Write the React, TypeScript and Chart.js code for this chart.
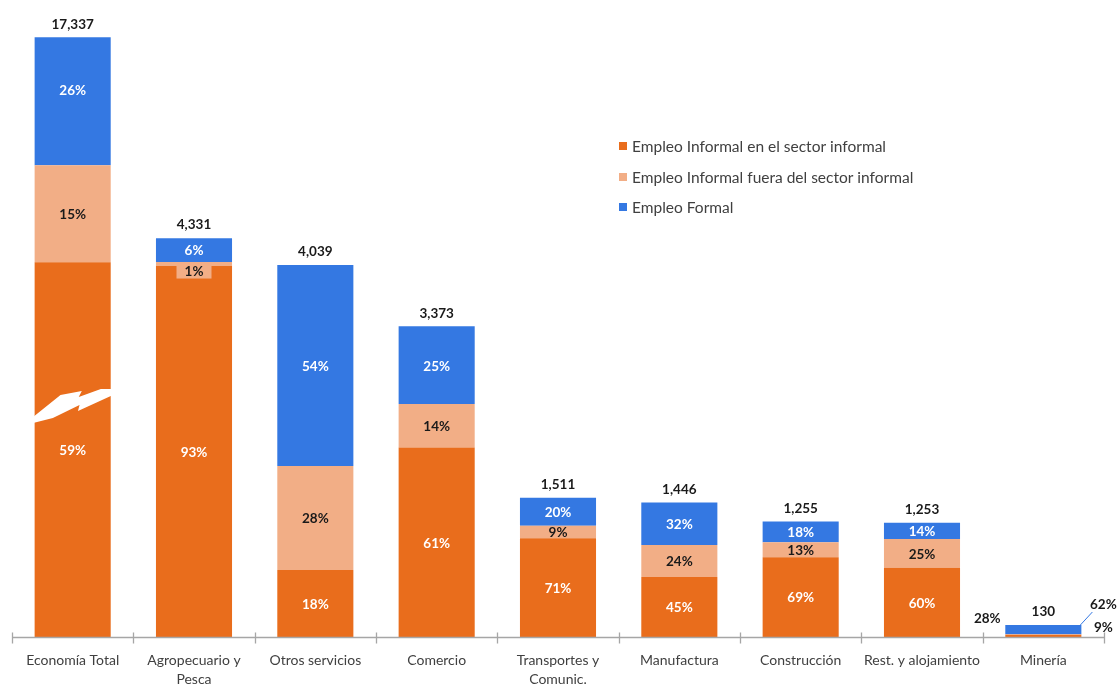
import React, { useEffect, useRef } from "react";
import { Chart, registerables } from "chart.js";

Chart.register(...registerables);

const categories: string[][] = [
  ["Economía Total"],
  ["Agropecuario y", "Pesca"],
  ["Otros servicios"],
  ["Comercio"],
  ["Transportes y", "Comunic."],
  ["Manufactura"],
  ["Construcción"],
  ["Rest. y alojamiento"],
  ["Minería"],
];
const totalLabels = ["17,337", "4,331", "4,039", "3,373", "1,511", "1,446", "1,255", "1,253", "130"];
const pctInformalSector = [59, 93, 18, 61, 71, 45, 69, 60, 9];
const pctInformalOutside = [15, 1, 28, 14, 9, 24, 13, 25, 28];
const pctFormal = [26, 6, 54, 25, 20, 32, 18, 14, 62];
// drawn segment heights (thousands of workers); "Economía Total" is drawn on a broken axis
const informalSector = [4070, 4028, 727, 2058, 1073, 651, 866, 752, 24];
const informalOutside = [1053, 43, 1131, 472, 136, 347, 163, 313, 6];
const formal = [1390, 260, 2181, 843, 302, 463, 226, 175, 100];
const seriesNames = [
  "Empleo Informal en el sector informal",
  "Empleo Informal fuera del sector informal",
  "Empleo Formal",
];
const yMax = 6515;

const ORANGE = "#E96D1C";
const LIGHT = "#F2AE86";
const BLUE = "#3478E2";
const FONT = "Lato, 'Open Sans', sans-serif";

const labelsPlugin = {
  id: "customLabels",
  afterDatasetsDraw(chart: any) {
    const ctx = chart.ctx as CanvasRenderingContext2D;
    const area = chart.chartArea;
    const xs = chart.scales.x;
    const m0 = chart.getDatasetMeta(0);
    const m1 = chart.getDatasetMeta(1);
    const m2 = chart.getDatasetMeta(2);
    ctx.save();

    // broken-axis lightning on first bar
    const b0 = m0.data[0];
    const left = b0.x - b0.width / 2;
    const w = b0.width;
    const yA = chart.scales.y.getPixelForValue(2520);
    const pts: [number, number][] = [
      [-0.02, 12], [0.34, -10], [0.62, -14], [0.58, -8], [0.87, -16], [1.03, -16],
      [1.03, -10], [0.57, 6], [0.59, 0], [0.24, 13], [-0.02, 18],
    ];
    ctx.fillStyle = "#ffffff";
    ctx.beginPath();
    pts.forEach(([fx, dy], i) => {
      const px = left + fx * w;
      const py = yA + dy;
      if (i === 0) ctx.moveTo(px, py);
      else ctx.lineTo(px, py);
    });
    ctx.closePath();
    ctx.fill();

    // axis line & ticks
    const yAxis = area.bottom + 0.5;
    ctx.strokeStyle = "#A6A6A6";
    ctx.lineWidth = 1.3;
    ctx.beginPath();
    ctx.moveTo(area.left, yAxis);
    ctx.lineTo(area.right, yAxis);
    const n = categories.length;
    for (let i = 0; i <= n; i++) {
      let bx: number;
      if (i === 0) bx = area.left;
      else if (i === n) bx = area.right;
      else bx = (xs.getPixelForValue(i - 1) + xs.getPixelForValue(i)) / 2;
      bx = Math.round(bx) + 0.5;
      ctx.moveTo(bx, yAxis - 5);
      ctx.lineTo(bx, yAxis + 6);
    }
    ctx.stroke();

    // category labels
    ctx.fillStyle = "#404040";
    ctx.font = `14px ${FONT}`;
    ctx.textAlign = "center";
    ctx.textBaseline = "middle";
    categories.forEach((lines, i) => {
      const cx = xs.getPixelForValue(i);
      lines.forEach((ln, j) => ctx.fillText(ln, cx, 660 + j * 19));
    });

    // segment labels
    ctx.font = `bold 13.5px ${FONT}`;
    const segs = [
      { meta: m0, pct: pctInformalSector, color: "#ffffff" },
      { meta: m1, pct: pctInformalOutside, color: "#1a1a1a" },
      { meta: m2, pct: pctFormal, color: "#ffffff" },
    ];
    const last = n - 1;
    segs.forEach((s, si) => {
      s.meta.data.forEach((el: any, i: number) => {
        if (i === last) return;
        const txt = `${s.pct[i]}%`;
        let cy = (el.y + el.base) / 2;
        if (si === 1 && i === 1) {
          // tiny segment: label box below
          cy = el.base + 5;
          const tw = 35;
          ctx.fillStyle = LIGHT;
          ctx.fillRect(el.x - tw / 2, cy - 7.5, tw, 15);
        }
        if (si === 2 && i === 0) cy -= 12;
        ctx.fillStyle = s.color;
        ctx.fillText(txt, el.x, cy + 1);
      });
    });

    // totals
    ctx.fillStyle = "#1a1a1a";
    m2.data.forEach((el: any, i: number) => {
      ctx.fillText(totalLabels[i], el.x, el.y - 13);
    });

    // Mineria special labels
    const eM = m2.data[last];
    const bxR = eM.x + eM.width / 2;
    const bxL = eM.x - eM.width / 2;
    ctx.fillText(`${pctInformalOutside[last]}%`, bxL - 18, m0.data[last].base - 18);
    ctx.fillText(`${pctFormal[last]}%`, bxR + 22, eM.y - 20);
    ctx.fillText(`${pctInformalSector[last]}%`, bxR + 22, m0.data[last].base - 9);
    ctx.strokeStyle = BLUE;
    ctx.lineWidth = 1;
    ctx.beginPath();
    ctx.moveTo(bxR - 1, eM.y);
    ctx.lineTo(bxR + 11, eM.y - 13);
    ctx.stroke();

    // legend
    const lx = 619;
    const ly = [146, 177, 207];
    const cols = [ORANGE, LIGHT, BLUE];
    ctx.textAlign = "left";
    ctx.font = `15.5px ${FONT}`;
    seriesNames.forEach((nm, i) => {
      ctx.fillStyle = cols[i];
      ctx.fillRect(lx, ly[i] - 4, 8, 8);
      ctx.fillStyle = "#404040";
      ctx.fillText(nm, lx + 13, ly[i] + 1);
    });

    ctx.restore();
  },
};

export default function App() {
  const ref = useRef<HTMLCanvasElement | null>(null);
  useEffect(() => {
    if (!ref.current) return;
    const chart = new Chart(ref.current, {
      type: "bar",
      data: {
        labels: categories.map((c) => c.join(" ")),
        datasets: [
          { label: seriesNames[0], data: informalSector, backgroundColor: ORANGE },
          { label: seriesNames[1], data: informalOutside, backgroundColor: LIGHT },
          { label: seriesNames[2], data: formal, backgroundColor: BLUE },
        ],
      },
      options: {
        responsive: false,
        animation: false,
        datasets: { bar: { categoryPercentage: 1, barPercentage: 0.627, borderWidth: 0 } } as any,
        layout: { padding: { left: 12, right: 16, top: 37, bottom: 49 } },
        scales: {
          x: { stacked: true, display: false },
          y: { stacked: true, display: false, min: 0, max: yMax },
        },
        plugins: { legend: { display: false }, tooltip: { enabled: false } },
      },
      plugins: [labelsPlugin],
    });
    return () => chart.destroy();
  }, []);
  return (
    <div style={{ position: "fixed", left: 0, top: 0, width: 1120, height: 686, background: "#fff" }}>
      <canvas ref={ref} width={1120} height={686} />
    </div>
  );
}
